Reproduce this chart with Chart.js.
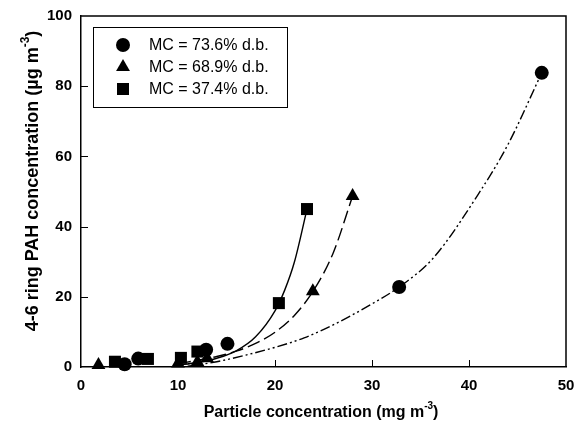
<!DOCTYPE html>
<html>
<head>
<title>PAH vs particle concentration</title>
<script src="https://cdn.jsdelivr.net/npm/chart.js"></script>
<style>
  html, body { margin: 0; padding: 0; background: #fff; }
  #wrap { width: 577px; height: 430px; position: relative; }
</style>
</head>
<body>
<div id="wrap"><canvas id="pahChart"></canvas></div>
<script>
  // tick positions
  const xTicks = [0, 10, 20, 30, 40, 50];
  const yTicks = [0, 20, 40, 60, 80, 100];

  const seriesLabels = ["MC = 73.6% d.b.", "MC = 68.9% d.b.", "MC = 37.4% d.b."];

  // measured points (particle mg m-3, PAH ug m-3)
  const mc736X = [4.5, 5.9, 12.9, 15.1, 32.8, 47.5];
  const mc736Y = [0.8, 2.4, 4.9, 6.6, 22.8, 83.8];
  const mc689X = [1.8, 10.0, 12.0, 13.0, 23.9, 28.0];
  const mc689Y = [0.6, 1.0, 1.4, 2.5, 21.6, 48.7];
  const mc374X = [3.5, 6.9, 10.3, 12.0, 20.4, 23.3];
  const mc374Y = [1.5, 2.3, 2.6, 4.4, 18.2, 45.0];

  // fitted curves
  const fit736X = [11, 14, 17, 20, 23, 26, 29.5, 32.8, 36.3, 40.9, 44, 47.5];
  const fit736Y = [0.2, 1.5, 3.4, 5.6, 8.3, 12.0, 17.2, 22.8, 31.0, 49.0, 63.3, 83.8];
  const fit689X = [10, 12, 14, 16, 18, 20, 22, 24, 26, 28];
  const fit689Y = [0.9, 1.9, 3.0, 4.5, 6.7, 9.9, 14.7, 21.9, 32.5, 48.7];
  const fit374X = [10, 12, 14, 16, 18, 20, 21, 22, 23.3];
  const fit374Y = [0.5, 1.3, 2.5, 4.6, 8.6, 16.0, 21.9, 29.9, 45.0];

  const pts = (xs, ys) => xs.map((x, i) => ({ x: x, y: ys[i] }));

  const FONT = "'Liberation Sans', Arial, sans-serif";

  function markerPath(ctx, style, x, y, r) {
    ctx.beginPath();
    if (style === "circle") {
      ctx.arc(x, y, r, 0, Math.PI * 2);
    } else if (style === "triangle") {
      ctx.moveTo(x, y - r);
      ctx.lineTo(x + r * 0.866, y + r * 0.5);
      ctx.lineTo(x - r * 0.866, y + r * 0.5);
      ctx.closePath();
    } else {
      const s = r * Math.SQRT1_2;
      ctx.rect(x - s, y - s, 2 * s, 2 * s);
    }
    ctx.fill();
  }

  // draws text with a raised "-3" exponent before the closing bracket
  function textWithExp(ctx, main, size, cx, cy) {
    ctx.font = "bold " + size + "px " + FONT;
    const w1 = ctx.measureText(main).width;
    const w3 = ctx.measureText(")").width;
    const sup = Math.round(size * 0.65);
    ctx.font = "bold " + sup + "px " + FONT;
    const w2 = ctx.measureText("-3").width;
    const x0 = cx - (w1 + w2 + w3) / 2;
    ctx.font = "bold " + size + "px " + FONT;
    ctx.fillText(main, x0, cy);
    ctx.fillText(")", x0 + w1 + w2, cy);
    ctx.font = "bold " + sup + "px " + FONT;
    ctx.fillText("-3", x0 + w1, cy - size * 0.4);
  }

  // top/right frame lines and inward tick marks
  const framePlugin = {
    id: "frame",
    beforeDatasetsDraw(chart) {
      const { ctx, chartArea: a, scales } = chart;
      ctx.save();
      ctx.strokeStyle = "#000";
      ctx.lineWidth = 1.5;
      ctx.beginPath();
      ctx.moveTo(a.left, a.top);
      ctx.lineTo(a.right, a.top);
      ctx.lineTo(a.right, a.bottom);
      ctx.stroke();
      ctx.lineWidth = 1;
      ctx.beginPath();
      xTicks.slice(1, -1).forEach(v => {
        const px = Math.round(scales.x.getPixelForValue(v)) + 0.5;
        ctx.moveTo(px, a.bottom);
        ctx.lineTo(px, a.bottom - 7);
      });
      yTicks.slice(1, -1).forEach(v => {
        const py = Math.round(scales.y.getPixelForValue(v)) + 0.5;
        ctx.moveTo(a.left, py);
        ctx.lineTo(a.left + 7, py);
      });
      ctx.stroke();
      ctx.restore();
    }
  };

  // boxed legend inside the plot plus axis titles
  const labelPlugin = {
    id: "labels",
    afterDraw(chart) {
      const ctx = chart.ctx;
      ctx.save();
      ctx.fillStyle = "#000";
      ctx.strokeStyle = "#000";
      ctx.lineWidth = 1;
      ctx.strokeRect(93.5, 27.5, 194, 80);
      ctx.textBaseline = "middle";
      ctx.textAlign = "left";
      const rowsY = [45, 67, 89];
      [0, 1, 2].forEach(i => {
        const ds = chart.data.datasets[i];
        markerPath(ctx, ds.pointStyle, 123, rowsY[i], ds.pointRadius);
        ctx.font = "16px " + FONT;
        ctx.fillText(seriesLabels[i], 149, rowsY[i] + 1);
      });

      textWithExp(ctx, "Particle concentration (mg m", 16, 321, 413);

      ctx.translate(33, 181);
      ctx.rotate(-Math.PI / 2);
      textWithExp(ctx, "4-6 ring PAH concentration (\u00b5g m", 18, 0, 0);
      ctx.restore();
    }
  };

  const pointSet = (label, data, style, r) => ({
    label: label,
    data: data,
    showLine: false,
    pointStyle: style,
    pointRadius: r,
    pointHoverRadius: r,
    pointBackgroundColor: "#000",
    pointBorderColor: "#000",
    pointBorderWidth: 0,
    clip: false,
    order: 0
  });

  const curveSet = (data, dash) => ({
    data: data,
    showLine: true,
    pointRadius: 0,
    borderColor: "#000",
    borderWidth: 1.4,
    borderDash: dash,
    cubicInterpolationMode: "monotone",
    fill: false,
    order: 1
  });

  const tickFont = { family: FONT, size: 15, weight: "bold" };

  new Chart(document.getElementById("pahChart"), {
    type: "scatter",
    data: {
      datasets: [
        pointSet(seriesLabels[0], pts(mc736X, mc736Y), "circle", 7),
        pointSet(seriesLabels[1], pts(mc689X, mc689Y), "triangle", 8),
        pointSet(seriesLabels[2], pts(mc374X, mc374Y), "rect", 8.5),
        curveSet(pts(fit736X, fit736Y), [10, 3, 2, 3, 2, 3]),
        curveSet(pts(fit689X, fit689Y), [13, 5]),
        curveSet(pts(fit374X, fit374Y), [])
      ]
    },
    options: {
      responsive: true,
      maintainAspectRatio: false,
      animation: false,
      layout: { padding: { top: 16, right: 11, left: 0, bottom: 0 } },
      plugins: { legend: { display: false }, tooltip: { enabled: false } },
      scales: {
        x: {
          type: "linear",
          min: 0,
          max: 50,
          afterBuildTicks: s => { s.ticks = xTicks.map(v => ({ value: v })); },
          afterFit: s => { s.height = 63; s.paddingLeft = 0; s.paddingRight = 0; },
          grid: { display: false, drawTicks: false },
          border: { display: true, color: "#000", width: 1.5 },
          ticks: { color: "#000", font: tickFont, padding: 10, maxRotation: 0 }
        },
        y: {
          type: "linear",
          min: 0,
          max: 100,
          afterBuildTicks: s => { s.ticks = yTicks.map(v => ({ value: v })); },
          afterFit: s => { s.width = 81; s.paddingTop = 0; s.paddingBottom = 0; },
          grid: { display: false, drawTicks: false },
          border: { display: true, color: "#000", width: 1.5 },
          ticks: { color: "#000", font: tickFont, padding: 9 }
        }
      }
    },
    plugins: [framePlugin, labelPlugin]
  });
</script>
</body>
</html>
